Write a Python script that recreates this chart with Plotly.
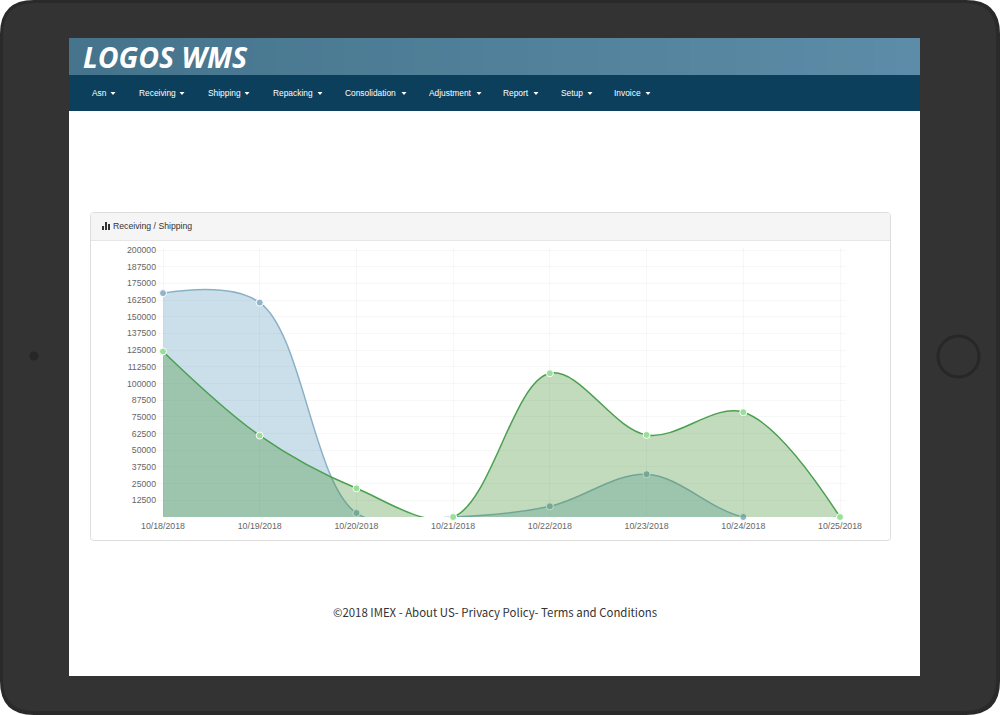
import plotly.graph_objects as go

W = 1000
H = 715

dates = ['10/18/2018', '10/19/2018', '10/20/2018', '10/21/2018',
         '10/22/2018', '10/23/2018', '10/24/2018', '10/25/2018']
receiving = [167700, 160600, 3000, 0, 8000, 32000, 0, 0]
shipping = [124000, 61000, 21500, 0, 107700, 61500, 78500, 0]
y_ticks = [12500, 25000, 37500, 50000, 62500, 75000, 87500, 100000, 112500,
           125000, 137500, 150000, 162500, 175000, 187500, 200000]

menu_names = ['Asn', 'Receiving', 'Shipping', 'Repacking', 'Consolidation',
              'Adjustment', 'Report', 'Setup', 'Invoice']
menu_left = [90, 137, 206, 271, 343, 427, 501, 559, 612]
menu_caret = [113, 182, 247, 320, 404, 479, 536, 590, 648]


def px(x):
    return x / W


def py(y):
    return 1 - y / H


def rect(x0, y0, x1, y1, fill, line=None):
    return dict(type='rect', xref='paper', yref='paper', layer='below',
                x0=px(x0), x1=px(x1), y0=py(y0), y1=py(y1), fillcolor=fill,
                line=dict(color=line or fill, width=1 if line else 0))


def rounded(x0, y0, x1, y1, r, fill, line=None, width=1):
    pts = [('M', x0 + r, y0), ('L', x1 - r, y0), ('Q', x1, y0, x1, y0 + r),
           ('L', x1, y1 - r), ('Q', x1, y1, x1 - r, y1), ('L', x0 + r, y1),
           ('Q', x0, y1, x0, y1 - r), ('L', x0, y0 + r), ('Q', x0, y0, x0 + r, y0)]
    path = ''
    for p in pts:
        if p[0] == 'Q':
            path += 'Q %f,%f %f,%f ' % (px(p[1]), py(p[2]), px(p[3]), py(p[4]))
        else:
            path += '%s %f,%f ' % (p[0], px(p[1]), py(p[2]))
    return dict(type='path', xref='paper', yref='paper', layer='below', path=path + 'Z',
                fillcolor=fill, line=dict(color=line or fill, width=width if line else 0))


def text(x, y, s, size, color, anchor='left', family='Liberation Sans'):
    return dict(xref='paper', yref='paper', x=px(x), y=py(y), text=s, showarrow=False,
                xanchor=anchor, yanchor='middle', font=dict(size=size, color=color, family=family))


shapes = []
# tablet body
shapes.append(rounded(0, 0, 1000, 715, 34, '#2a2a2a'))
shapes.append(rounded(3, 3, 996, 711, 31, '#333333'))
# screen
shapes.append(rect(69, 38, 920, 676, '#ffffff'))
# banner, a bit lighter to the right
steps = 37
for i in range(steps):
    t = i / (steps - 1)
    r = int(70 + (92 - 70) * t)
    g = int(116 + (140 - 116) * t)
    b = int(141 + (167 - 141) * t)
    x0 = 69 + 23 * i
    shapes.append(rect(x0, 38, 920, 75, 'rgb(%d,%d,%d)' % (r, g, b)))
shapes.append(rect(69, 75, 920, 111, '#0c3f5c'))
# carets in the menu
for c in menu_caret:
    shapes.append(dict(type='path', xref='paper', yref='paper', layer='above',
                       path='M %f,%f L %f,%f L %f,%f Z' % (px(c - 2.5), py(92), px(c + 2.5), py(92), px(c), py(95)),
                       fillcolor='#ffffff', line=dict(width=0)))
# camera and home button
shapes.append(dict(type='circle', xref='paper', yref='paper', layer='below',
                   x0=px(29.5), x1=px(38.5), y0=py(360.5), y1=py(351.5),
                   fillcolor='#262626', line=dict(width=0)))
shapes.append(dict(type='circle', xref='paper', yref='paper', layer='below',
                   x0=px(938), x1=px(979), y0=py(377), y1=py(336),
                   fillcolor='#333333', line=dict(color='#272727', width=3)))
# panel
shapes.append(rounded(90.5, 212.5, 890.5, 540.5, 3, '#ffffff', '#dddddd'))
shapes.append(rect(91, 213, 890, 240, '#f5f5f5'))
shapes.append(rect(91, 240, 890, 241, '#e6e6e6'))
# bar icon in the panel heading
shapes.append(rect(102, 226, 104, 230, '#333333'))
shapes.append(rect(105, 222, 107, 230, '#333333'))
shapes.append(rect(108, 224, 110, 230, '#333333'))

annotations = [
    text(81, 57, '<b><i>LOGOS WMS</i></b>', 28.5, '#ffffff', family='Open Sans'),
    text(111, 226, 'Receiving / Shipping', 8.7, '#333333'),
    text(494.5, 612, '©2018 IMEX - About US- Privacy Policy- Terms and Conditions', 11.4,
         '#333333', anchor='center', family='Noto Sans CJK KR'),
]
for name, left in zip(menu_names, menu_left):
    annotations.append(text(left, 92.5, name, 8.4, '#ffffff'))

fig = go.Figure()
fig.add_trace(go.Scatter(
    x=dates, y=receiving, name='Receiving', mode='lines+markers', cliponaxis=False,
    line=dict(shape='spline', smoothing=1.0, color='#8ab0c8', width=1.5),
    marker=dict(size=7, color='#8fb4cb', line=dict(color='#ffffff', width=1)),
    fill='tozeroy', fillcolor='rgba(58,135,173,0.27)'))
fig.add_trace(go.Scatter(
    x=dates, y=shipping, name='Shipping', mode='lines+markers', cliponaxis=False,
    line=dict(shape='spline', smoothing=1.0, color='#4aa050', width=1.5),
    marker=dict(size=7, color='#98e098', line=dict(color='#ffffff', width=1)),
    fill='tozeroy', fillcolor='rgba(62,142,48,0.32)'))

fig.update_layout(
    width=W, height=H, margin=dict(l=0, r=0, t=0, b=0, autoexpand=False), autosize=False,
    paper_bgcolor='#ffffff', plot_bgcolor='rgba(0,0,0,0)', showlegend=False,
    shapes=shapes, annotations=annotations,
    font=dict(family='Liberation Sans', size=9, color='#666666'),
    xaxis=dict(domain=[px(157), px(846)], type='category', range=[-0.062, 7.062], automargin=False,
               showgrid=True, gridcolor='rgba(0,0,0,0.03)', gridwidth=1, zeroline=False,
               ticks='', ticklen=0, tickangle=0, ticklabelstandoff=2, tickfont=dict(size=8.8, color='#666666')),
    yaxis=dict(domain=[py(517), py(248)], range=[0, 201500], tickvals=y_ticks, automargin=False,
               tickformat='d', showgrid=True, gridcolor='rgba(0,0,0,0.03)', gridwidth=1,
               zeroline=False, ticks='', ticklen=0, tickfont=dict(size=8.7, color='#666666')),
)

# the page has the browser's default body margin otherwise
fig.write_html('out.html', config={'displayModeBar': False},
               post_script="document.body.style.margin='0';")
